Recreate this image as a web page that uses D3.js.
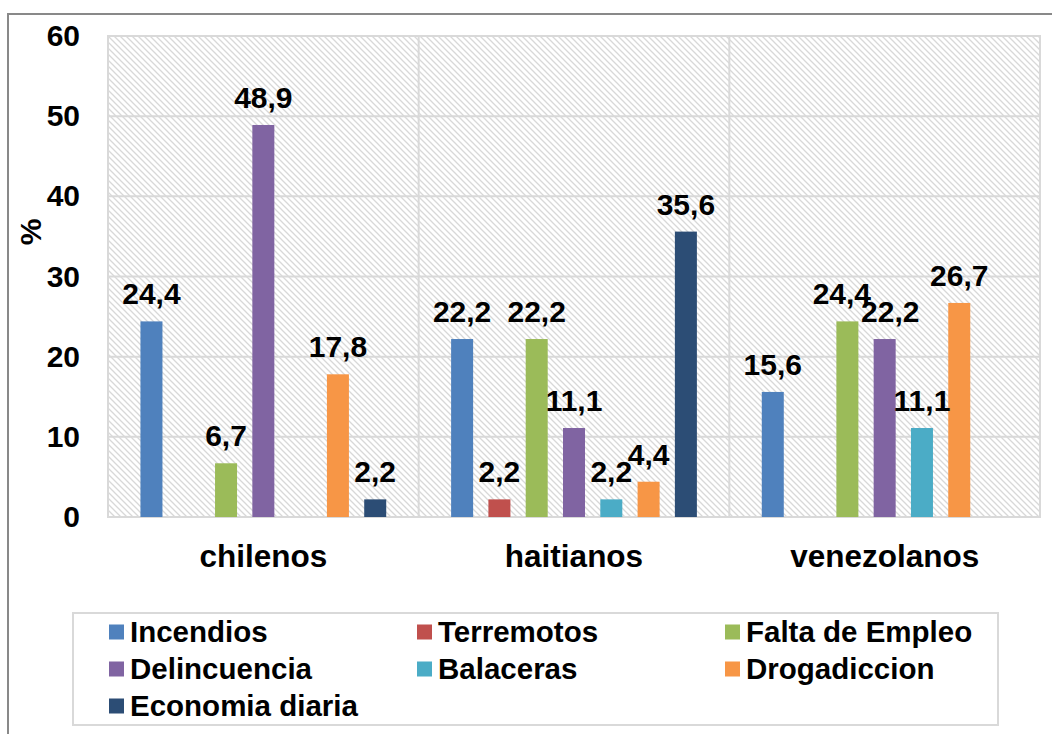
<!DOCTYPE html>
<html>
<head>
<meta charset="utf-8">
<script src="https://cdn.jsdelivr.net/npm/d3@7"></script>
<style>
  html, body { margin: 0; padding: 0; background: #fff; }
  svg { display: block; font-family: "Liberation Sans", Arial, sans-serif; font-weight: bold; }
</style>
</head>
<body>
<svg id="chart" width="1052" height="734"></svg>
<script>
// Groups along the x axis
const categories = ["chilenos", "haitianos", "venezolanos"];

// Series (one bar per series within each group)
const series = ["Incendios", "Terremotos", "Falta de Empleo", "Delincuencia", "Balaceras", "Drogadiccion", "Economia diaria"];
const colors = ["#4F81BD", "#C0504D", "#9BBB59", "#8064A2", "#4BACC6", "#F79646", "#2C4D75"];

// Percentages per group, in series order (null = no response)
const chilenos    = [24.4, null, 6.7, 48.9, null, 17.8, 2.2];
const haitianos   = [22.2, 2.2, 22.2, 11.1, 2.2, 4.4, 35.6];
const venezolanos = [15.6, null, 24.4, 22.2, 11.1, 26.7, null];

const yTicks = [0, 10, 20, 30, 40, 50, 60];
const yTitle = "%";

const values = { chilenos, haitianos, venezolanos };

const svg = d3.select("#chart");
const W = 1052, H = 734;
const plot = { left: 108, right: 1040, top: 36, bottom: 517 };
const FONT = "Liberation Sans, Arial, sans-serif";

// Outer chart frame (runs past the right and bottom edges)
svg.append("rect")
  .attr("x", 8).attr("y", 14)
  .attr("width", W + 20).attr("height", H + 20)
  .attr("fill", "#fff").attr("stroke", "#898989").attr("stroke-width", 2);

// Diagonal hatch for the plot background
const defs = svg.append("defs");
const pat = defs.append("pattern")
  .attr("id", "hatch").attr("patternUnits", "userSpaceOnUse")
  .attr("width", 6).attr("height", 6);
pat.append("rect").attr("width", 6).attr("height", 6).attr("fill", "#fff");
pat.append("path")
  .attr("d", "M0,0 L6,6 M-1,5 L1,7 M5,-1 L7,1")
  .attr("stroke", "#d8d8d8").attr("stroke-width", 1.3);

const y = d3.scaleLinear().domain([0, 60]).range([plot.bottom, plot.top]);
const x0 = d3.scaleBand().domain(categories).range([plot.left, plot.right]).padding(0);
const x1 = d3.scaleBand().domain(series).range([0, x0.bandwidth()])
  .paddingInner(0.41).paddingOuter(0.87);

svg.append("rect")
  .attr("x", plot.left).attr("y", plot.top)
  .attr("width", plot.right - plot.left).attr("height", plot.bottom - plot.top)
  .attr("fill", "url(#hatch)");

// Gridlines
const grid = svg.append("g").attr("stroke", "#d9d9d9").attr("stroke-width", 2);
grid.selectAll("line.h").data(yTicks).join("line")
  .attr("x1", plot.left).attr("x2", plot.right)
  .attr("y1", d => y(d)).attr("y2", d => y(d));
grid.selectAll("line.v").data(categories.slice(1)).join("line")
  .attr("x1", d => x0(d)).attr("x2", d => x0(d))
  .attr("y1", plot.top).attr("y2", plot.bottom);
svg.append("rect")
  .attr("x", plot.left).attr("y", plot.top)
  .attr("width", plot.right - plot.left).attr("height", plot.bottom - plot.top)
  .attr("fill", "none").attr("stroke", "#d9d9d9").attr("stroke-width", 2);

// Y axis labels
const yAxis = d3.axisLeft(y).tickValues(yTicks).tickSize(0).tickPadding(28);
const gy = svg.append("g").attr("transform", `translate(${plot.left},0)`).call(yAxis);
gy.select(".domain").remove();
gy.selectAll("text").attr("font-size", 30).attr("font-weight", "bold")
  .attr("fill", "#000").attr("font-family", FONT);

// X axis labels
const xAxis = d3.axisBottom(x0).tickSize(0).tickPadding(28);
const gx = svg.append("g").attr("transform", `translate(0,${plot.bottom})`).call(xAxis);
gx.select(".domain").remove();
gx.selectAll("text").attr("font-size", 31.5).attr("font-weight", "bold")
  .attr("fill", "#000").attr("font-family", FONT);

// Y axis title
svg.append("text")
  .attr("transform", "translate(41,232) rotate(-90)")
  .attr("text-anchor", "middle")
  .attr("font-size", 30).text(yTitle);

// Bars
const rows = [];
categories.forEach(c => {
  values[c].forEach((v, i) => {
    if (v !== null) rows.push({ cat: c, s: series[i], i, v });
  });
});

svg.append("g").selectAll("rect").data(rows).join("rect")
  .attr("x", d => x0(d.cat) + x1(d.s))
  .attr("y", d => y(d.v))
  .attr("width", x1.bandwidth())
  .attr("height", d => y(0) - y(d.v))
  .attr("fill", d => colors[d.i]);

// Value labels above bars
const fmt = v => v.toFixed(1).replace(".", ",");
const labels = svg.append("g").selectAll("text").data(rows).join("text")
  .attr("text-anchor", "middle")
  .attr("font-size", 30)
  .attr("x", d => x0(d.cat) + x1(d.s) + x1.bandwidth() / 2)
  .attr("y", d => y(d.v) - 17)
  .text(d => fmt(d.v));

// Push apart neighbouring labels in a group that would collide
labels.each(function (d) { d.lx = +this.getAttribute("x"); d.ly = +this.getAttribute("y"); d.w = this.getComputedTextLength() - 10; });
categories.forEach(c => {
  const g = rows.filter(r => r.cat === c).sort((a, b) => a.i - b.i);
  for (let k = 0; k < g.length - 1; k++) {
    const a = g[k], b = g[k + 1];
    const overlapX = (a.w + b.w) / 2 - (b.lx - a.lx);
    const overlapY = 21 - Math.abs(a.ly - b.ly);
    if (overlapX > 0 && overlapY > 0) { a.lx -= overlapX / 2; b.lx += overlapX / 2; }
  }
});
labels.attr("x", d => d.lx);

// Legend
svg.append("rect")
  .attr("x", 73).attr("y", 613).attr("width", 925).attr("height", 112)
  .attr("fill", "#fff").attr("stroke", "#d9d9d9").attr("stroke-width", 2);
const colX = [109, 417, 725], rowY = [632, 669, 706];
const leg = svg.append("g").selectAll("g").data(series).join("g")
  .attr("transform", (d, i) => `translate(${colX[i % 3]},${rowY[Math.floor(i / 3)]})`);
leg.append("rect").attr("x", 0).attr("y", -7.5).attr("width", 15).attr("height", 15)
  .attr("fill", (d, i) => colors[i]);
leg.append("text").attr("x", 21).attr("dy", "0.35em").attr("font-size", 29.5).text(d => d);
</script>
</body>
</html>
